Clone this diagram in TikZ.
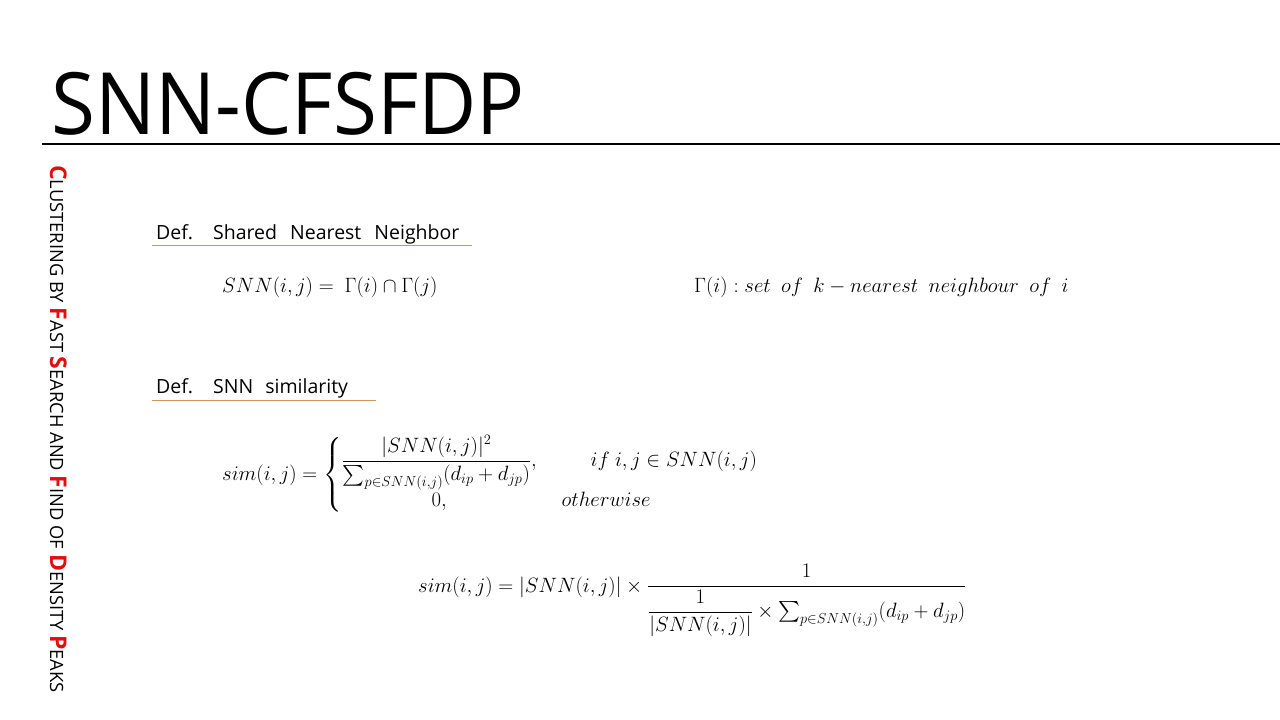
\documentclass[tikz,border=0pt]{standalone}
\usepackage{amsmath}
\usepackage{fontspec}
\setmainfont{Open Sans}
\definecolor{uline}{HTML}{D4955A}
\definecolor{capred}{HTML}{E01010}
\newcommand{\capL}[1]{{\color{capred}\fontsize{23}{23}\selectfont\bfseries #1}}
\begin{document}
\begin{tikzpicture}[x=1pt,y=-1pt,
  deftext/.style={anchor=base west,inner sep=0pt,font=\fontsize{19.5}{20}\selectfont},
  mathtext/.style={inner sep=0pt,font=\fontsize{20}{24}\selectfont},
  defline/.style={draw=uline,line width=1pt}]
\useasboundingbox (0,0) rectangle (1280,720);
\fill[white] (0,0) rectangle (1280,720);
% title
\node[anchor=base west,inner sep=0pt,xscale=0.93,font=\fontsize{86}{90}\selectfont] (title) at (51,134) {SNN-CFSFDP};
\coordinate (rl) at (42,144);
\coordinate (rr) at (1280,144);
\draw[line width=2pt] (rl) -- (rr);
% vertical side text
\node[rotate=-90,anchor=base west,inner sep=0pt,font=\fontsize{18.3}{19}\selectfont] (side) at (50,165)
 {\capL{C}LUSTERING BY \capL{F}AST \capL{S}EARCH AND \capL{F}IND OF \capL{D}ENSITY \capL{P}EAKS};
% definitions
\node[deftext] (def1) at (156,239) {Def.\hspace{20pt}Shared\hspace{8pt} Nearest\hspace{8pt} Neighbor};
\coordinate (u1a) at (152,245);
\coordinate (u1b) at (472,245);
\draw[defline] (u1a) -- (u1b);
\node[deftext] (def2) at (156,393) {Def.\hspace{20pt}SNN\hspace{7pt} similarity};
\coordinate (u2a) at (152,400);
\coordinate (u2b) at (376,400);
\draw[defline] (u2a) -- (u2b);
% formulas
\node[mathtext,anchor=base west] (f1) at (222,292) {$SNN(i,j) =\ \Gamma(i)\cap\Gamma(j)$};
\node[mathtext,anchor=base west] (f2) at (694,292) {$\Gamma(i) : set\ \ of\ \ k - nearest\ \ neighbour\ \ of\ \ i$};
\node[mathtext,anchor=base west] (f3) at (222,480) {$\displaystyle sim(i,j) = \left\{\begin{array}{@{}c@{}l@{}}
  \dfrac{|SNN(i,j)|^2}{\sum_{p\in SNN(i,j)}(d_{ip}+d_{jp})\rule{0pt}{16pt}}, & \hspace{54pt} if\ i,j\in SNN(i,j)\\[6pt]
  0, & \hspace{25pt} otherwise
  \end{array}\right.$};
\node[mathtext,anchor=base west] (f4) at (418,592) {$\displaystyle sim(i,j) = |SNN(i,j)|\times\frac{1}{\rule{0pt}{18pt}\displaystyle\frac{1}{|SNN(i,j)|}\times\textstyle\sum_{p\in SNN(i,j)}(d_{ip}+d_{jp})}$};
\end{tikzpicture}
\end{document}
